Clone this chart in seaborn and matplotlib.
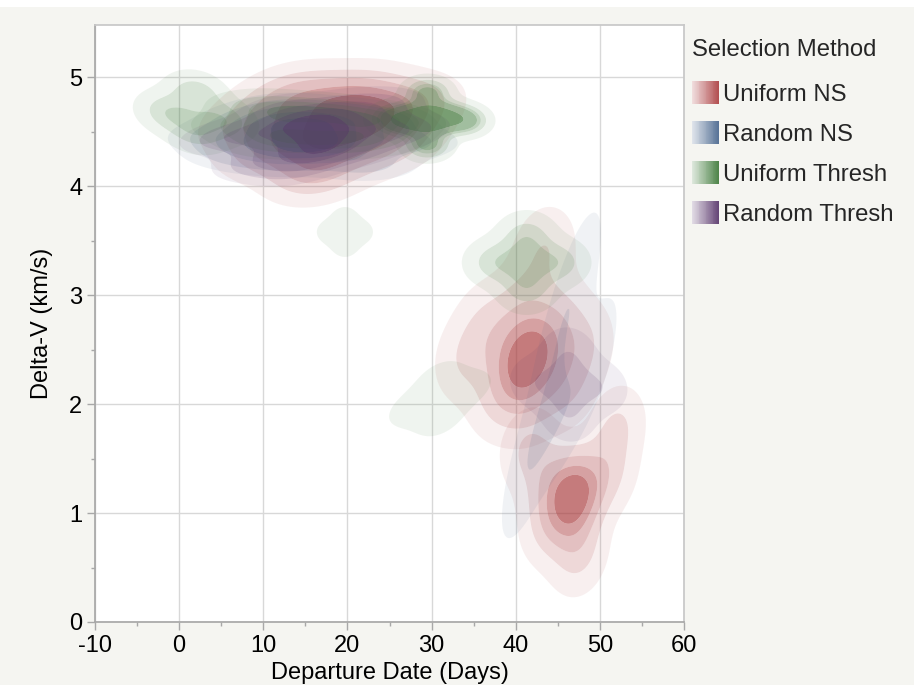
import numpy as np
import pandas as pd
import matplotlib
matplotlib.use("Agg")
import matplotlib.pyplot as plt
from matplotlib.colors import to_rgb
from matplotlib.patches import Rectangle
from matplotlib.legend_handler import HandlerBase
from matplotlib.ticker import MultipleLocator
import seaborn as sns

# Selection methods and their colours
methods = ["Uniform NS", "Random NS", "Uniform Thresh", "Random Thresh"]
method_colors = ["#aa3c3e", "#46648c", "#3c7837", "#553268"]

# Departure date (days), delta-V (km/s) and solution family of the selected trajectories
uniform_ns_day = [8, 10, 11, 13, 14, 15, 16, 17, 18, 19, 20, 21, 22, 23, 24, 25, 27, 28, 16,
                  34, 36.5, 38, 40, 41, 41.5, 42.5, 45, 46, 48, 43.5, 41, 42.5, 40.5,
                  41.5, 44, 47.3, 46.8, 51, 47, 47.5, 52, 46.8, 44]
uniform_ns_dv = [4.55, 4.3, 4.75, 4.45, 4.9, 4.2, 4.65, 4.4, 4.85, 4.55, 4.25, 4.7, 4.9, 4.5,
                 4.75, 4.35, 4.6, 4.8, 4.05,
                 2.4, 2.75, 2.05, 2.5, 2.95, 2.0, 2.45, 2.8, 2.15, 2.55, 3.45, 2.4, 2.5, 2.3,
                 1.6, 1.3, 1.15, 0.95, 1.35, 1.2, 0.6, 1.8, 1.25, 0.9]
uniform_ns_family = ["early"] * 19 + ["late"] * 14 + ["late south"] * 10

random_ns_day = [5, 7, 9, 10, 11, 12, 13, 14, 15, 15, 16, 17, 18, 19, 20, 22, 24, 27,
                 47.5, 45, 49.5, 46, 41, 43.5]
random_ns_dv = [4.45, 4.3, 4.6, 4.4, 4.55, 4.25, 4.7, 4.45, 4.3, 4.6, 4.4, 4.55, 4.35, 4.65,
                4.45, 4.2, 4.6, 4.4,
                3.2, 2.6, 2.4, 1.95, 1.35, 1.85]
random_ns_family = ["early"] * 18 + ["late"] * 6

uniform_thresh_day = [-1.5, 2, 5.5, 2,
                      8, 10, 11, 13, 15, 17, 19, 21, 23, 25,
                      29.5, 29.5, 29.5, 27, 32, 29.5, 29.5, 25.5, 34,
                      17.66, 21.74, 19.7, 19.7,
                      41.3, 37.3, 45.3, 41.3, 41.3,
                      27.3, 34.7, 31, 31]
uniform_thresh_dv = [4.68, 4.86, 4.6, 4.5,
                     4.55, 4.75, 4.4, 4.65, 4.45, 4.7, 4.4, 4.65, 4.45, 4.6,
                     4.62, 4.62, 4.62, 4.6, 4.64, 4.38, 4.86, 4.62, 4.6,
                     3.58, 3.58, 3.44, 3.72,
                     3.3, 3.3, 3.3, 3.05, 3.55,
                     1.95, 2.15, 1.85, 2.25]
uniform_thresh_family = (["west"] * 4 + ["early"] * 10 + ["east"] * 9 + ["early low"] * 4
                         + ["late"] * 5 + ["late low"] * 4)

random_thresh_day = [14, 15, 16, 16.5, 17, 18, 15.5, 17.5, 13, 19, 16, 16, 14.5, 18.5,
                     10, 11, 12, 21, 22, 23, 8, 25, 20, 13, 5, 27, 9, 24,
                     46.3, 42.3, 50.3, 46.3, 46.3]
random_thresh_dv = [4.4, 4.5, 4.45, 4.6, 4.35, 4.5, 4.28, 4.62, 4.55, 4.45, 4.25, 4.65, 4.6, 4.33,
                    4.5, 4.3, 4.7, 4.55, 4.35, 4.6, 4.45, 4.5, 4.75, 4.15, 4.45, 4.5, 4.2, 4.75,
                    2.18, 2.2, 2.15, 1.88, 2.48]
random_thresh_family = ["early"] * 28 + ["late"] * 5

days = [uniform_ns_day, random_ns_day, uniform_thresh_day, random_thresh_day]
dvs = [uniform_ns_dv, random_ns_dv, uniform_thresh_dv, random_thresh_dv]
families = [uniform_ns_family, random_ns_family, uniform_thresh_family, random_thresh_family]

frames = []
for name, d, v, f in zip(methods, days, dvs, families):
    frames.append(pd.DataFrame({"day": d, "dv": v, "family": f, "method": name}))
data = pd.concat(frames, ignore_index=True)
# small outlying families are shown with a single faint band
data["minor"] = data["family"].str.endswith("low") & (data["method"] == "Uniform Thresh")

levels = [0.05, 0.2, 0.4, 0.6, 0.8, 1.0]
minor_levels = [0.3, 1.0]
band_alpha = [0.08, 0.2, 0.32, 0.48, 0.68]

sns.set_theme(style="white")
plt.rcParams["font.family"] = ["Liberation Sans", "DejaVu Sans"]
plt.rcParams["axes.unicode_minus"] = False

fig = plt.figure(figsize=(9.14, 6.85), dpi=100, facecolor="#f5f5f1")
fig.patches.append(Rectangle((0, 1 - 7 / 685), 1, 7 / 685, transform=fig.transFigure,
                             facecolor="white", edgecolor="none", zorder=-1))
ax = fig.add_axes([95 / 914, 63 / 685, 589 / 914, 597 / 685])
ax.set_facecolor("white")


def density_bands(sub, color, lv, common):
    fams = list(dict.fromkeys(sub["family"]))
    before = len(ax.collections)
    sns.kdeplot(data=sub, x="day", y="dv", hue="family", hue_order=fams,
                palette={f: color for f in fams}, fill=True, levels=lv,
                common_norm=common, bw_adjust=1.0, gridsize=150, legend=False, ax=ax)
    rgb = to_rgb(color)
    for cs in ax.collections[before:]:
        n = len(cs.get_paths())
        cs.set_array(None)
        cs.set_facecolor([(*rgb, a) for a in band_alpha[:n]])
        cs.set_edgecolor("none")
        cs.set_linewidth(0)
        cs.set_antialiased(True)


for name, color in zip(methods, method_colors):
    sub = data[data["method"] == name]
    density_bands(sub[~sub["minor"]], color, levels, True)
    if sub["minor"].any():
        density_bands(sub[sub["minor"]], color, minor_levels, False)

ax.set_xlim(-10, 60)
ax.set_ylim(0, 5.48)
ax.xaxis.set_major_locator(MultipleLocator(10))
ax.xaxis.set_minor_locator(MultipleLocator(5))
ax.yaxis.set_major_locator(MultipleLocator(1))
ax.yaxis.set_minor_locator(MultipleLocator(0.5))
ax.grid(True, which="major", color="#d8d8d8", linewidth=1.0)
ax.set_axisbelow(True)
for side in ["left", "bottom"]:
    ax.spines[side].set_color("#a8a8a8")
for side in ["top", "right"]:
    ax.spines[side].set_color("#c8c8c8")
ax.tick_params(which="major", direction="out", length=6, width=1, color="#a8a8a8",
               labelsize=17, labelcolor="black", left=True, bottom=True, pad=3)
ax.tick_params(which="minor", direction="out", length=3, width=1, color="#a8a8a8",
               left=True, bottom=True)
ax.set_xlabel("Departure Date (Days)", fontsize=17, color="black", labelpad=4)
ax.set_ylabel("Delta-V (km/s)", fontsize=17, color="black", labelpad=12)


class GradientSwatch(HandlerBase):
    def __init__(self, color):
        super().__init__()
        self.rgb = np.array(to_rgb(color))

    def create_artists(self, legend, orig_handle, xdescent, ydescent, width, height,
                       fontsize, trans):
        steps = 30
        parts = []
        for i in range(steps):
            a = 0.18 + 0.72 * i / (steps - 1)
            c = (1 - a) * np.ones(3) + a * self.rgb
            parts.append(Rectangle((-xdescent + width * i / steps, -ydescent),
                                   width / steps * 1.1, height, facecolor=c,
                                   edgecolor="none", transform=trans))
        return parts


legend_fs = 17.2
legend_spacing = 0.65
handles = [Rectangle((0, 0), 1, 1) for _ in methods]
leg = ax.legend(handles, methods, title="Selection Method", loc="upper left",
                bbox_to_anchor=(0.99, 1.0), frameon=False, fontsize=legend_fs,
                title_fontsize=legend_fs, handlelength=1.1, handleheight=1.1,
                handletextpad=0.2, labelspacing=legend_spacing, borderaxespad=0.2,
                handler_map={h: GradientSwatch(c) for h, c in zip(handles, method_colors)})
leg._legend_box.align = "left"
leg._legend_box.sep = legend_spacing * legend_fs + 3

fig.savefig("out.png", dpi=100, facecolor=fig.get_facecolor())
